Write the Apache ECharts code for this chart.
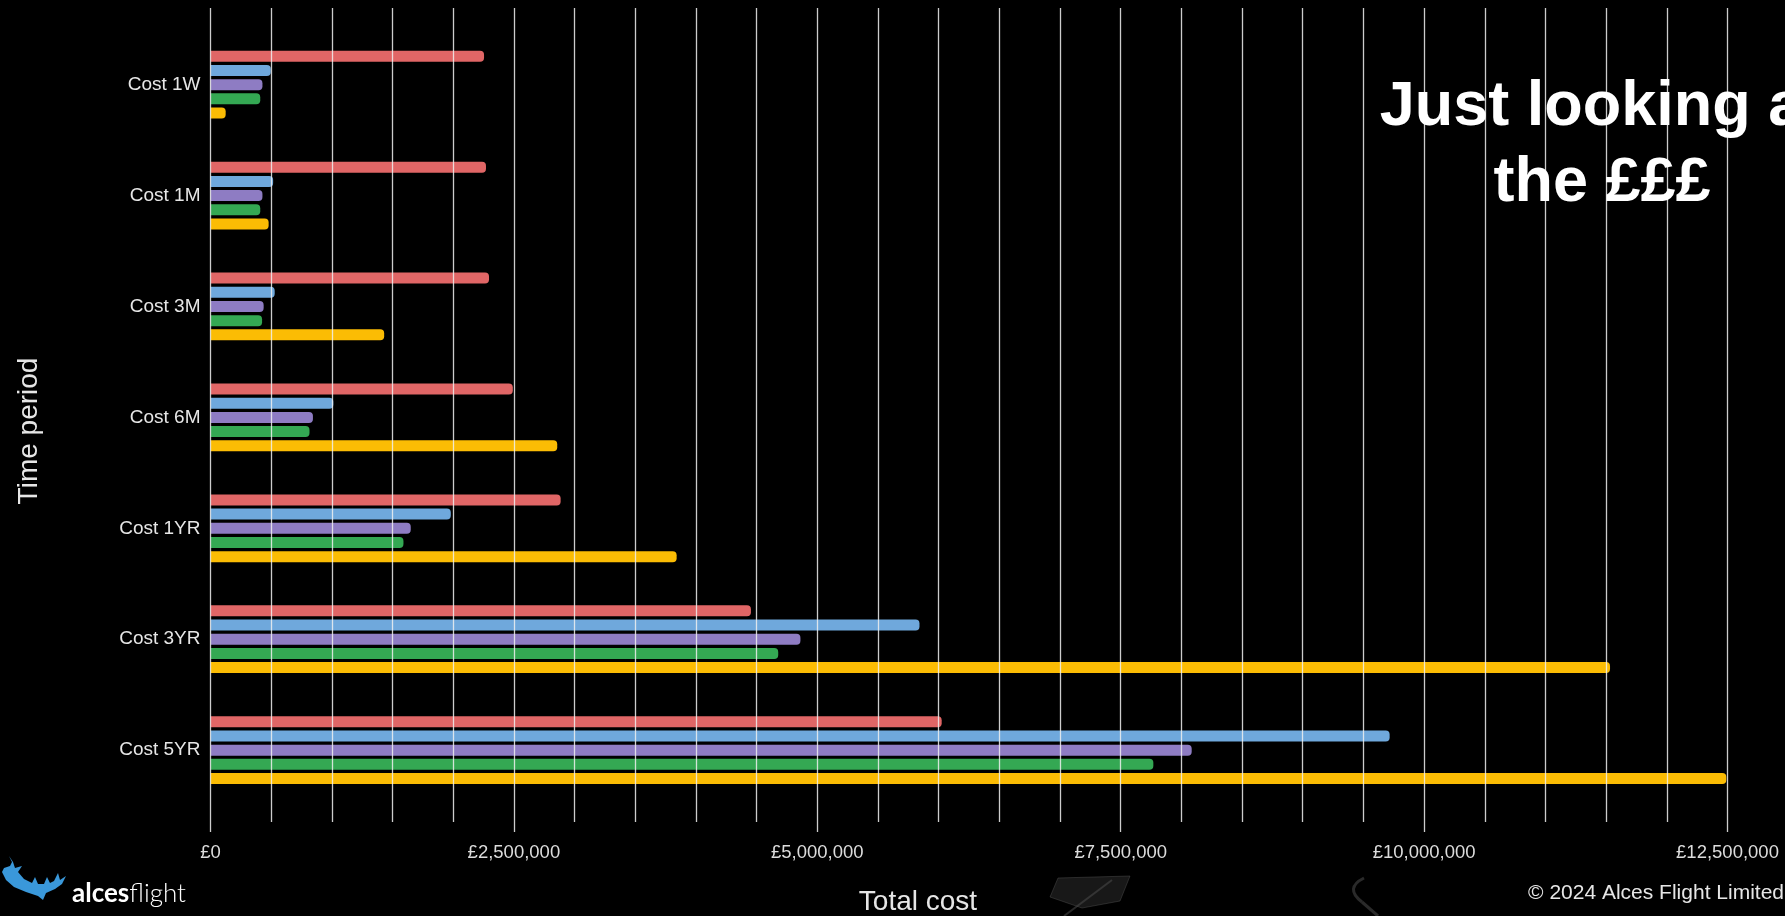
<!DOCTYPE html>
<html>
<head>
<meta charset="utf-8">
<title>Total cost by time period</title>
<script src="https://cdn.jsdelivr.net/npm/echarts@6/dist/echarts.min.js"></script>
<style>
  html, body { margin: 0; padding: 0; background: #000; }
  #chart { width: 1785px; height: 916px; }
</style>
</head>
<body>
<div id="chart"></div>
<script>
// Time periods (top to bottom)
const categories = ['Cost 1W', 'Cost 1M', 'Cost 3M', 'Cost 6M', 'Cost 1YR', 'Cost 3YR', 'Cost 5YR'];

// Total cost per option, in pounds
const costRed    = [2254000, 2270000, 2295000, 2491000, 2885000, 4453000, 6025000];
const costBlue   = [497000, 516000, 529000, 1012000, 1980000, 5842000, 9716000];
const costPurple = [428000, 428000, 438000, 844000, 1650000, 4861000, 8085000];
const costGreen  = [410000, 410000, 425000, 816000, 1590000, 4678000, 7769000];
const costYellow = [125000, 479000, 1431000, 2857000, 3841000, 11532000, 12490000];

// Value axis range and labelled ticks
const axisMax = 12500000;
const minorStep = 500000;
const majorStep = 2500000;
const tickLabels = ['£0', '£2,500,000', '£5,000,000', '£7,500,000', '£10,000,000', '£12,500,000'];

const seriesDefs = [
  { name: 'Option A', data: costRed,    color: '#e06666' },
  { name: 'Option B', data: costBlue,   color: '#6fa8dc' },
  { name: 'Option C', data: costPurple, color: '#8e7cc3' },
  { name: 'Option D', data: costGreen,  color: '#34a853' },
  { name: 'Option E', data: costYellow, color: '#fbbc04' }
];

const FONT = "'Liberation Sans', Arial, Helvetica, sans-serif";
const GRID_COLOR = 'rgba(240,240,240,0.85)';
const chart = echarts.init(document.getElementById('chart'), null, { renderer: 'canvas' });

// antler mark of the logo
const antlerPoints = [
  [9, 856], [12, 862], [10, 866], [4, 868], [2, 872], [6, 880], [14, 887], [26, 892], [38, 896],
  [43, 900], [46, 893], [55, 889], [62, 884], [66, 876], [60, 880], [58, 873], [54, 881],
  [50, 883], [47, 877], [44, 884], [38, 884], [35, 877], [32, 883], [24, 879], [18, 872],
  [22, 866], [15, 868], [13, 862]
];

const option = {
  backgroundColor: '#000000',
  animation: false,
  grid: [
    { left: 210.5, right: 57.5, top: 29.2, height: 776.4, containLabel: false },
    { left: 210.5, right: 57.5, top: 8, height: 814, containLabel: false }
  ],
  xAxis: [
    { gridIndex: 0, type: 'value', position: 'bottom', min: 0, max: axisMax, show: false },
    {
      gridIndex: 1, type: 'value', position: 'bottom', min: 0, max: axisMax, interval: minorStep, z: 5,
      axisLine: { show: false }, axisTick: { show: false }, axisLabel: { show: false },
      splitLine: { show: true, lineStyle: { color: GRID_COLOR, width: 1.3 } }
    },
    {
      gridIndex: 1, type: 'value', position: 'bottom', offset: 0, min: 0, max: axisMax, interval: majorStep,
      axisLine: { show: false },
      axisTick: { show: true, length: 10, lineStyle: { color: GRID_COLOR, width: 1.3 } },
      splitLine: { show: false },
      axisLabel: {
        color: '#dcdcdc', fontFamily: FONT, fontSize: 18.5, margin: 21,
        formatter: v => tickLabels[Math.round(v / majorStep)]
      }
    }
  ],
  yAxis: [
    {
      gridIndex: 0, type: 'category', data: categories, inverse: true,
      axisLine: { show: false }, axisTick: { show: false }, splitLine: { show: false },
      axisLabel: { color: '#e6e6e6', fontFamily: FONT, fontSize: 19, margin: 10 }
    },
    { gridIndex: 1, type: 'value', min: 0, max: 1, show: false }
  ],
  series: seriesDefs.map(s => ({
    type: 'bar',
    name: s.name,
    xAxisIndex: 0,
    yAxisIndex: 0,
    data: s.data,
    barWidth: 11,
    barGap: '29%',
    itemStyle: { color: s.color, borderRadius: [0, 4, 4, 0] }
  })),
  graphic: [
    // faint background shapes near the bottom
    {
      type: 'polygon', z: -1,
      shape: { points: [[1058, 878], [1130, 876], [1120, 901], [1082, 908], [1050, 897]] },
      style: { fill: 'rgba(70,70,70,0.35)', stroke: 'rgba(90,90,90,0.4)', lineWidth: 1 }
    },
    {
      type: 'line', z: -1,
      shape: { x1: 1064, y1: 916, x2: 1112, y2: 880 },
      style: { stroke: 'rgba(80,80,80,0.5)', lineWidth: 2 }
    },
    {
      type: 'bezierCurve', z: -1,
      shape: { x1: 1364, y1: 878, cpx1: 1344, cpy1: 888, x2: 1362, y2: 902 },
      style: { fill: 'none', stroke: 'rgba(70,70,70,0.6)', lineWidth: 3 }
    },
    {
      type: 'line', z: -1,
      shape: { x1: 1362, y1: 902, x2: 1378, y2: 916 },
      style: { stroke: 'rgba(70,70,70,0.6)', lineWidth: 3 }
    },
    // heading
    {
      type: 'text', x: 1602, y: 108, z: 20,
      style: { text: 'Just looking at', fill: '#ffffff', font: 'bold 63px ' + FONT, textAlign: 'center', textVerticalAlign: 'middle' }
    },
    {
      type: 'text', x: 1602, y: 184, z: 20,
      style: { text: 'the £££', fill: '#ffffff', font: 'bold 63px ' + FONT, textAlign: 'center', textVerticalAlign: 'middle' }
    },
    // axis titles
    {
      type: 'text', x: 29, y: 431, rotation: Math.PI / 2,
      style: { text: 'Time period', fill: '#e6e6e6', font: '28px ' + FONT, textAlign: 'center', textVerticalAlign: 'middle' }
    },
    {
      type: 'text', x: 918, y: 902,
      style: { text: 'Total cost', fill: '#e6e6e6', font: '28px ' + FONT, textAlign: 'center', textVerticalAlign: 'middle' }
    },
    // footer
    {
      type: 'text', x: 1784, y: 893,
      style: { text: '© 2024 Alces Flight Limited', fill: '#e6e6e6', font: '21px ' + FONT, textAlign: 'right', textVerticalAlign: 'middle' }
    },
    // logo
    {
      type: 'polygon',
      shape: { points: antlerPoints },
      style: { fill: '#3a98da' }
    },
    {
      type: 'text', x: 72, y: 894,
      style: {
        text: '{b|alces}{l|flight}',
        fill: '#ffffff',
        textVerticalAlign: 'middle',
        rich: {
          b: { fontFamily: 'Lato, ' + FONT, fontWeight: 'bold', fontSize: 26, fill: '#ffffff' },
          l: { fontFamily: 'Lato, ' + FONT, fontWeight: 300, fontSize: 26, fill: '#ffffff' }
        }
      }
    }
  ]
};

chart.setOption(option);
</script>
</body>
</html>
